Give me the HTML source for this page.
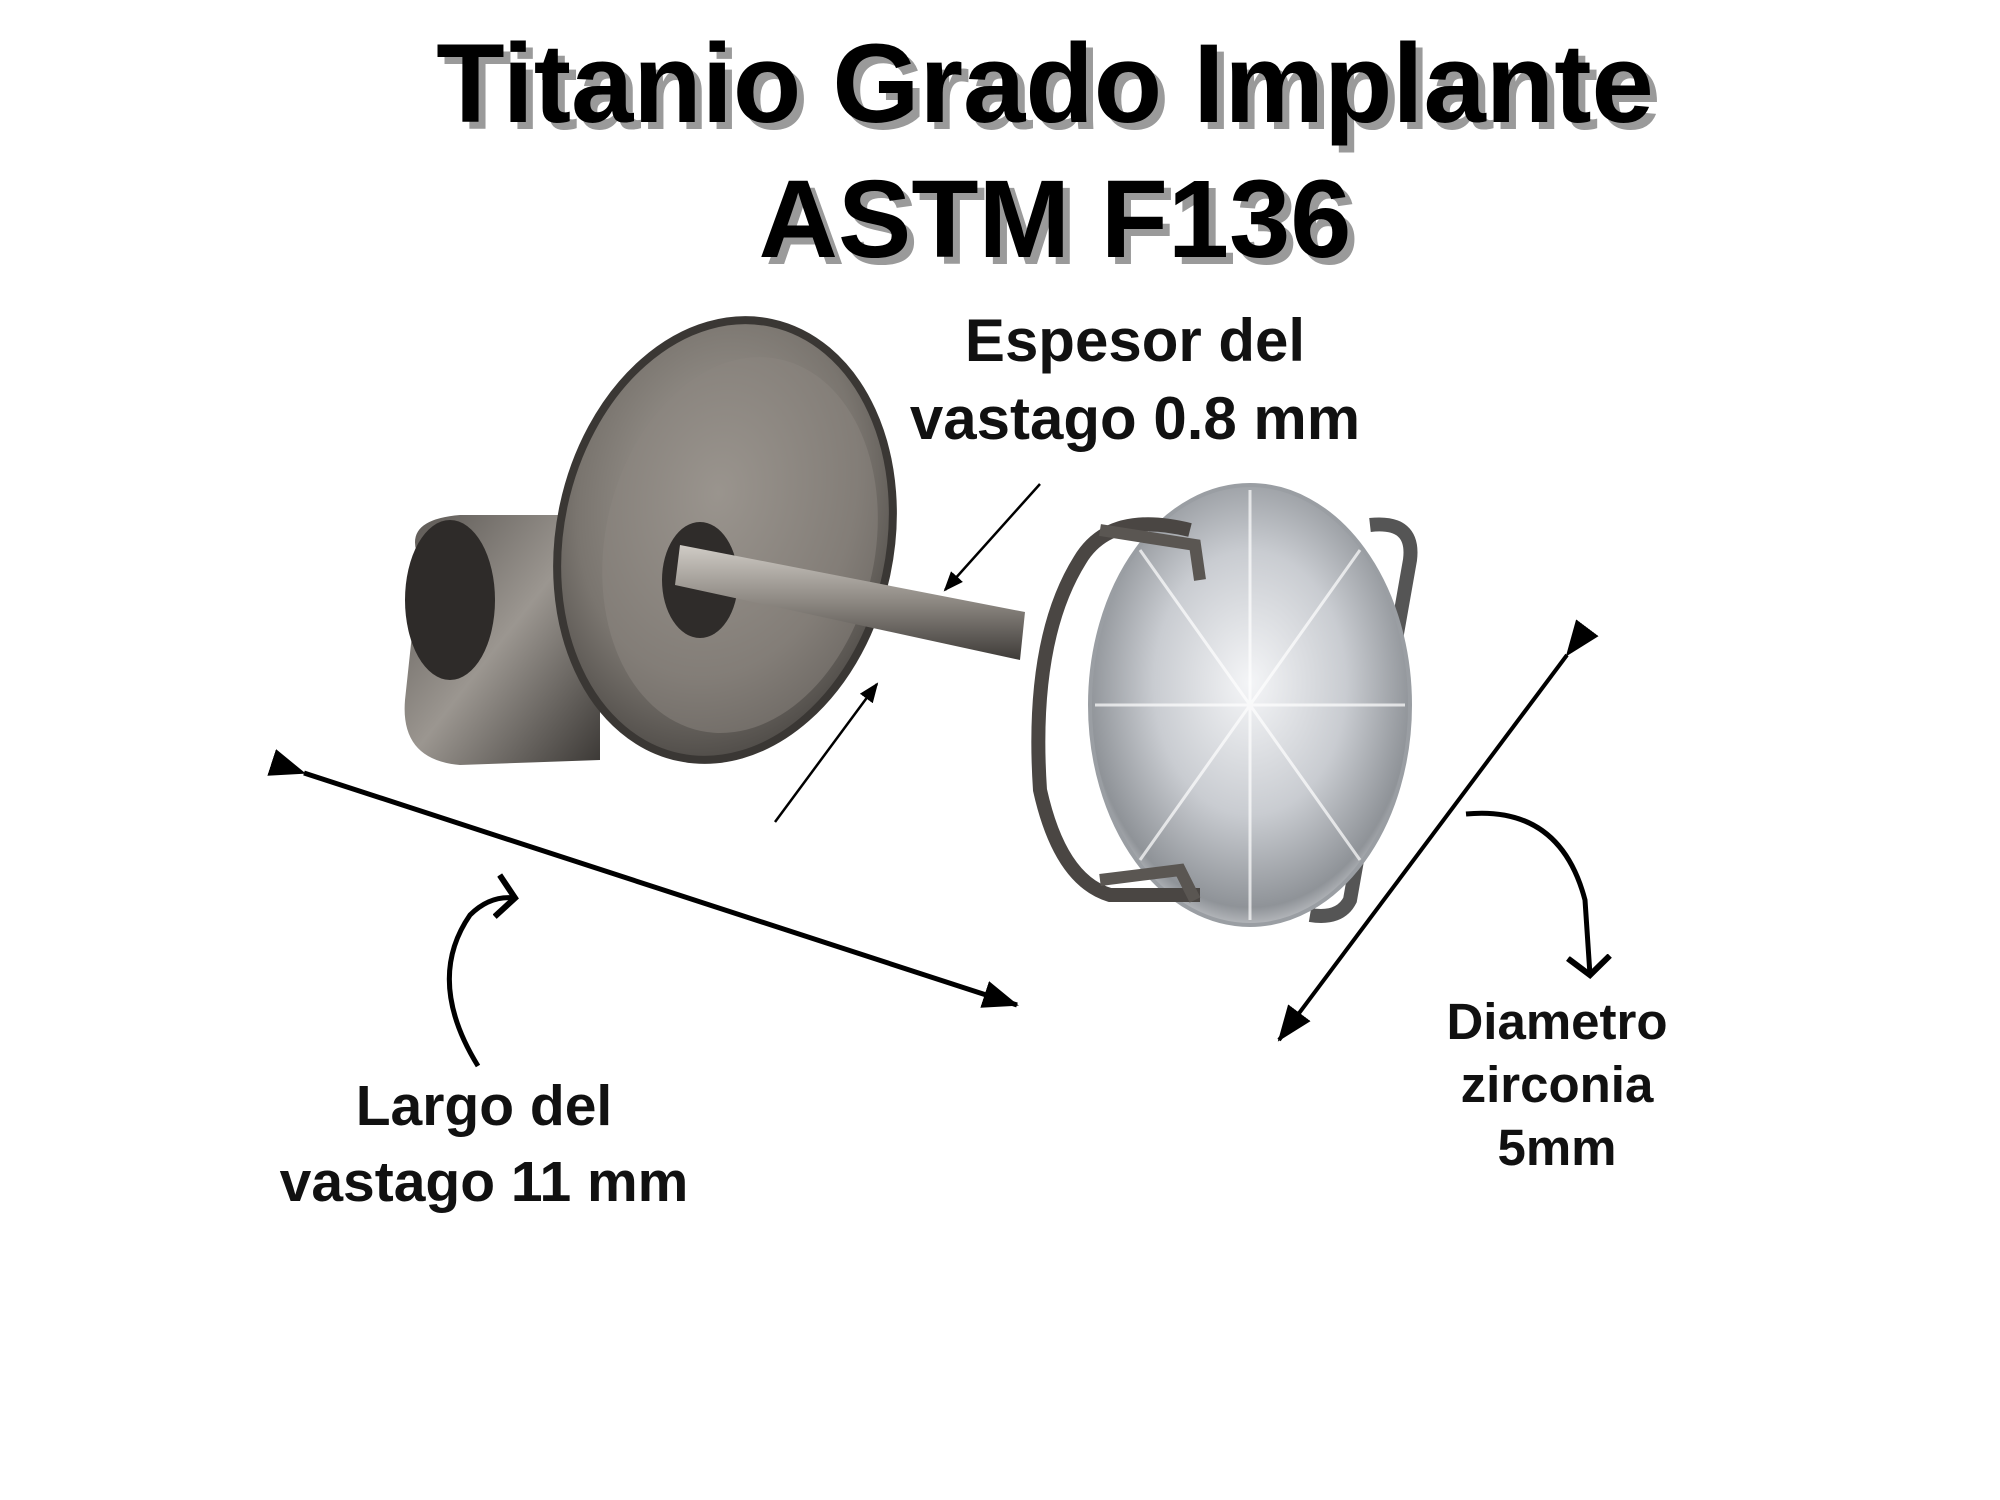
<!DOCTYPE html>
<html><head><meta charset="utf-8"><style>
html,body{margin:0;padding:0;background:#fff;}
body{width:2000px;height:1500px;position:relative;overflow:hidden;font-family:"Liberation Sans",sans-serif;}
.t{position:absolute;left:0;width:2000px;text-align:center;font-weight:bold;color:#000;text-shadow:7px 7px 0 #9a9a9a;}
.l{position:absolute;text-align:center;font-weight:bold;color:#111;}
svg{position:absolute;left:0;top:0;}
</style></head><body>
<svg width="2000" height="1500" viewBox="0 0 2000 1500">
<defs>
<radialGradient id="disc" cx="0.45" cy="0.4" r="0.7"><stop offset="0" stop-color="#a8a39c"/><stop offset="0.6" stop-color="#7a756f"/><stop offset="1" stop-color="#3d3a37"/></radialGradient>
<linearGradient id="cyl" x1="0" y1="0" x2="1" y2="1"><stop offset="0" stop-color="#5a5652"/><stop offset="0.5" stop-color="#9b9690"/><stop offset="1" stop-color="#3b3835"/></linearGradient>
<linearGradient id="post" x1="0" y1="0" x2="0" y2="1"><stop offset="0" stop-color="#d0ccc6"/><stop offset="0.5" stop-color="#8c8781"/><stop offset="1" stop-color="#3e3b38"/></linearGradient>
<radialGradient id="gem" cx="0.5" cy="0.45" r="0.6"><stop offset="0" stop-color="#f4f5f7"/><stop offset="0.5" stop-color="#c9ccd1"/><stop offset="0.85" stop-color="#8f9398"/><stop offset="1" stop-color="#e6e7ea"/></radialGradient>
<marker id="ah" markerWidth="40" markerHeight="32" refX="34" refY="16" orient="auto" markerUnits="userSpaceOnUse"><path d="M0,2 L36,16 L0,30 z" fill="#000"/></marker>
<marker id="as" markerWidth="20" markerHeight="18" refX="18" refY="9" orient="auto" markerUnits="userSpaceOnUse"><path d="M0,1 L20,9 L0,17 z" fill="#000"/></marker>
<marker id="av" markerWidth="40" markerHeight="50" refX="20" refY="25" orient="auto" markerUnits="userSpaceOnUse"><path d="M2,4 L20,25 L2,46" fill="none" stroke="#000" stroke-width="6"/></marker>
</defs>
<path d="M420,560 Q400,520 460,515 L600,515 L600,760 L460,765 Q400,760 405,700 Z" fill="url(#cyl)"/>
<ellipse cx="450" cy="600" rx="45" ry="80" fill="#2e2b29"/>
<ellipse cx="725" cy="540" rx="165" ry="222" transform="rotate(12 725 540)" fill="url(#disc)" stroke="#3a3734" stroke-width="8"/>
<ellipse cx="740" cy="545" rx="135" ry="190" transform="rotate(12 740 545)" fill="#8b8680" opacity="0.5"/>
<ellipse cx="700" cy="580" rx="38" ry="58" fill="#2f2c2a"/>
<path d="M680,545 L1025,612 L1020,660 L675,585 Z" fill="url(#post)"/>
<path d="M1370,525 Q1415,520 1410,560 L1350,900 Q1340,920 1310,915" fill="none" stroke="#555" stroke-width="14"/>
<ellipse cx="1250" cy="705" rx="160" ry="220" fill="url(#gem)" stroke="#9a9ea3" stroke-width="4"/>
<g stroke="#fff" stroke-width="3" opacity="0.7"><line x1="1250" y1="490" x2="1250" y2="920"/><line x1="1095" y1="705" x2="1405" y2="705"/><line x1="1140" y1="550" x2="1360" y2="860"/><line x1="1360" y1="550" x2="1140" y2="860"/></g>
<path d="M1190,530 Q1110,510 1080,560 Q1030,640 1040,790 Q1060,880 1110,895 L1200,895" fill="none" stroke="#4a4643" stroke-width="14"/>
<path d="M1100,530 L1195,545 L1200,580" fill="none" stroke="#5a5652" stroke-width="12"/>
<path d="M1100,880 L1180,870 L1195,900" fill="none" stroke="#5a5652" stroke-width="12"/>
<line x1="304" y1="773" x2="1017" y2="1005" stroke="#000" stroke-width="5" marker-start="url(#ah)" marker-end="url(#ah)"/>
<line x1="1567" y1="655" x2="1279" y2="1040" stroke="#000" stroke-width="4" marker-start="url(#ah)" marker-end="url(#ah)"/>
<line x1="1040" y1="484" x2="945" y2="590" stroke="#000" stroke-width="2.5" marker-end="url(#as)"/>
<line x1="775" y1="822" x2="877" y2="684" stroke="#000" stroke-width="2.5" marker-end="url(#as)"/>
<path d="M478,1066 Q425,980 470,915 Q490,895 515,898" fill="none" stroke="#000" stroke-width="5" marker-end="url(#av)"/>
<path d="M1466,814 Q1560,805 1585,900 L1590,975" fill="none" stroke="#000" stroke-width="5" marker-end="url(#av)"/>
</svg>
<div class="t" style="top:26px;font-size:112px;line-height:116px;padding-left:90px;box-sizing:border-box;">Titanio Grado Implante</div>
<div class="t" style="top:162px;font-size:110px;line-height:116px;padding-left:110px;box-sizing:border-box;">ASTM F136</div>
<div class="l" style="left:785px;width:700px;top:302px;font-size:60px;line-height:78px;">Espesor del<br>vastago 0.8 mm</div>
<div class="l" style="left:134px;width:700px;top:1068px;font-size:57px;line-height:76px;">Largo del<br>vastago 11 mm</div>
<div class="l" style="left:1357px;width:400px;top:990px;font-size:51px;line-height:63px;">Diametro<br>zirconia<br>5mm</div>
</body></html>
